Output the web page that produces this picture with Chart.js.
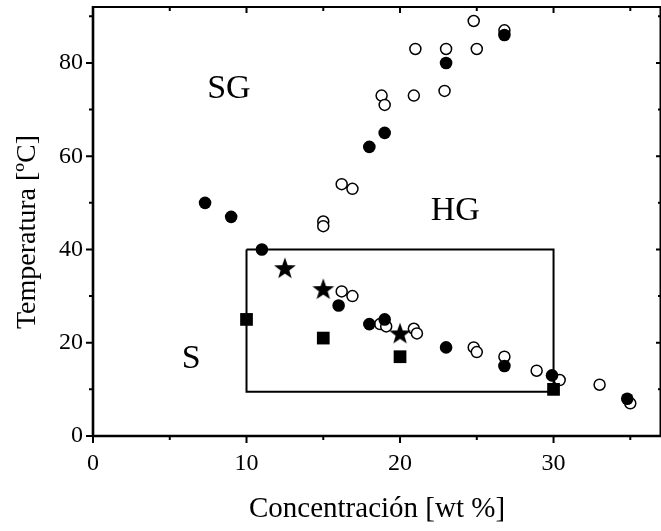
<!DOCTYPE html>
<html>
<head>
<meta charset="utf-8">
<script src="https://cdn.jsdelivr.net/npm/chart.js@4/dist/chart.umd.min.js"></script>
<style>
html,body{margin:0;padding:0;background:#fff;}
#wrap{width:661px;height:531px;}
</style>
</head>
<body>
<div id="wrap"><canvas id="c" width="661" height="531"></canvas></div>
<script>
// ---- data ----
const filledX = [7.3, 9, 11, 16, 18, 18, 19, 19, 23, 23, 26.8, 26.8, 29.9, 34.8];
const filledY = [50, 47, 40, 28, 62, 24, 65, 25, 80, 19, 86, 15, 13, 8];
const openX = [15, 15, 16.2, 16.9, 18.8, 19, 21, 20.9, 23, 22.9, 24.8, 25, 26.8, 16.2, 16.9, 18.7, 19.1, 20.9, 21.1, 24.8, 25, 26.8, 28.9, 30.4, 33, 35];
const openY = [46, 45, 54, 53, 73, 71, 83, 73, 83, 74, 89, 83, 87, 31, 30, 24, 23.5, 23, 22, 19, 18, 17, 14, 12, 11, 7];
const starX = [12.5, 15, 20];
const starY = [36, 31.5, 22];
const squareX = [10, 15, 20, 30];
const squareY = [25, 21, 17, 10];
const boxX = [10, 30, 30, 10, 10];
const boxY = [40, 40, 9.5, 9.5, 40];
const xTickLabels = [0, 10, 20, 30];
const yTickLabels = [0, 20, 40, 60, 80];
const regionNames = ['SG', 'HG', 'S'];
const regionX = [8.85, 23.6, 6.4];
const regionY = [74.5, 48.3, 16.6];

const pts = (xs, ys) => xs.map((x, i) => ({x: x, y: ys[i]}));

// star marker image
const starImg = document.createElement('canvas');
starImg.width = 24; starImg.height = 24;
(function(){
  const g = starImg.getContext('2d');
  g.beginPath();
  for (let i = 0; i < 10; i++) {
    const r = i % 2 === 0 ? 11.5 : 4.6;
    const a = -Math.PI / 2 + i * Math.PI / 5;
    const px = 12 + r * Math.cos(a), py = 12.8 + r * Math.sin(a);
    if (i === 0) g.moveTo(px, py); else g.lineTo(px, py);
  }
  g.closePath();
  g.fillStyle = '#000';
  g.fill();
})();

const FONT = "'Liberation Serif', 'Times New Roman', serif";

const framePlugin = {
  id: 'frame',
  afterDatasetsDraw(chart) {
    const {ctx, chartArea: {left, right, top, bottom}, scales: {x, y}} = chart;
    ctx.save();
    ctx.strokeStyle = '#000';
    ctx.lineCap = 'butt';
    // frame
    ctx.lineWidth = 2;
    ctx.beginPath();
    ctx.moveTo(left, top); ctx.lineTo(right, top);
    ctx.moveTo(right - 0.5, top); ctx.lineTo(right - 0.5, bottom);
    ctx.stroke();
    ctx.lineWidth = 2.6;
    ctx.beginPath();
    ctx.moveTo(left, top - 1); ctx.lineTo(left, bottom + 1.3);
    ctx.moveTo(left - 1.3, bottom); ctx.lineTo(right, bottom);
    ctx.stroke();
    // ticks
    ctx.lineWidth = 2;
    ctx.beginPath();
    for (let v = 0; v <= 35; v += 5) {
      const px = x.getPixelForValue(v);
      const major = v % 10 === 0;
      ctx.moveTo(px, bottom); ctx.lineTo(px, bottom + (major ? 7 : 4));
      ctx.moveTo(px, top); ctx.lineTo(px, top + (major ? 6 : 4));
    }
    for (let v = 0; v <= 90; v += 10) {
      const py = y.getPixelForValue(v);
      const major = v % 20 === 0;
      ctx.moveTo(left, py); ctx.lineTo(left - (major ? 7 : 4), py);
      ctx.moveTo(right, py); ctx.lineTo(right - (major ? 5 : 3), py);
    }
    ctx.stroke();
    // region labels
    ctx.fillStyle = '#000';
    ctx.font = "34px " + FONT;
    ctx.textAlign = 'center';
    ctx.textBaseline = 'middle';
    regionNames.forEach((t, i) => {
      ctx.fillText(t, x.getPixelForValue(regionX[i]), y.getPixelForValue(regionY[i]));
    });
    ctx.restore();
  }
};

const zeroPad = s => { s.paddingTop = 0; s.paddingBottom = 0; s.paddingLeft = 0; s.paddingRight = 0; };

new Chart(document.getElementById('c'), {
  type: 'scatter',
  data: {
    datasets: [
      {label: 'box', data: pts(boxX, boxY), showLine: true, borderColor: '#000', borderWidth: 2,
       pointRadius: 0, fill: false, tension: 0, order: 5},
      {label: 'open', data: pts(openX, openY), pointStyle: 'circle', pointRadius: 5.5,
       backgroundColor: '#fff', borderColor: '#000', borderWidth: 1.5, order: 4},
      {label: 'filled', data: pts(filledX, filledY), pointStyle: 'circle', pointRadius: 6.3,
       backgroundColor: '#000', borderColor: '#000', borderWidth: 0, order: 3},
      {label: 'star', data: pts(starX, starY), pointStyle: starImg, order: 2},
      {label: 'square', data: pts(squareX, squareY), pointStyle: 'rect', pointRadius: 9,
       backgroundColor: '#000', borderColor: '#000', borderWidth: 0, order: 1}
    ]
  },
  options: {
    responsive: false,
    animation: false,
    events: [],
    layout: {autoPadding: false, padding: {top: 7, right: 0, left: 0, bottom: 0}},
    plugins: {legend: {display: false}, tooltip: {enabled: false}},
    scales: {
      x: {
        type: 'linear', min: 0, max: 37,
        grid: {display: false, drawTicks: false},
        border: {display: false},
        ticks: {
          stepSize: 10, includeBounds: false, padding: 13, color: '#000',
          font: {family: FONT, size: 24},
          callback: v => xTickLabels.includes(v) ? String(v) : ''
        },
        title: {display: true, text: 'Concentración [wt %]', color: '#000',
                font: {family: FONT, size: 29}, padding: {top: 0, bottom: 4}},
        afterFit: s => { s.height = 95; zeroPad(s); }
      },
      y: {
        type: 'linear', min: 0, max: 92,
        grid: {display: false, drawTicks: false},
        border: {display: false},
        ticks: {
          stepSize: 20, includeBounds: false, padding: 10, color: '#000',
          font: {family: FONT, size: 24},
          callback: v => yTickLabels.includes(v) ? String(v) : ''
        },
        title: {display: true, text: 'Temperatura [ºC]\u00a0\u00a0\u00a0', color: '#000',
                font: {family: FONT, size: 28}, padding: {top: 11, bottom: 0}},
        afterFit: s => { s.width = 93; zeroPad(s); }
      }
    }
  },
  plugins: [framePlugin]
});
</script>
</body>
</html>
